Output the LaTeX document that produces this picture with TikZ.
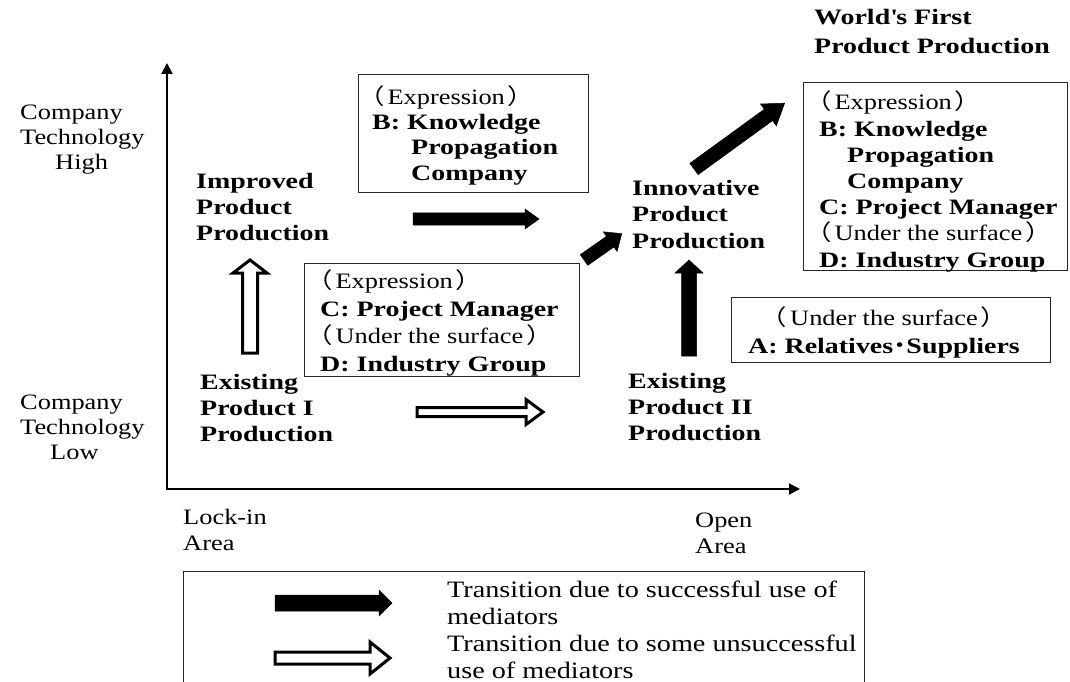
\documentclass[tikz,border=0pt]{standalone}
\usepackage{fontspec}
\setmainfont{Liberation Serif}[FakeStretch=1.2, BoldFeatures={FakeStretch=1.27}]
\newfontfamily\cjk{Noto Sans CJK JP}[FakeStretch=1.2]
\usetikzlibrary{arrows.meta}
\newcommand\lp{{\cjk （}\hspace{3pt}}
\newcommand\rp{\hspace{3pt}{\cjk ）}}
% #1 style, #2 x, #3 y (tail centre), #4 angle, #5 length, #6 shaft half width, #7 head half width, #8 head length
\newcommand\blockarrow[8]{%
  \begin{scope}[shift={(#2,#3)},rotate=#4]
    \filldraw[#1] (0,#6) -- ({#5-#8},#6) -- ({#5-#8},#7) -- (#5,0) -- ({#5-#8},-#7) -- ({#5-#8},-#6) -- (0,-#6) -- cycle;
  \end{scope}}
\tikzset{
  txt/.style={inner sep=0pt, anchor=base west, align=left, font=\fontsize{22}{26}\selectfont},
  btxt/.style={txt, font=\fontsize{22}{26}\selectfont\bfseries},
  box/.style={draw=black!85, line width=1.3pt, anchor=north west, inner sep=0pt},
  solidarrow/.style={fill=black, draw=black, line width=0.5pt, line join=miter},
  hollowarrow/.style={fill=white, draw=black, line width=3pt, line join=miter},
  axis/.style={line width=2pt, line join=miter, {Triangle[length=11pt,width=11pt]}-{Triangle[length=11pt,width=11pt]}}
}
\begin{document}
\begin{tikzpicture}[x=1pt,y=-1pt]
\useasboundingbox (0,0) rectangle (1070,682);
\fill[white] (0,0) rectangle (1070,682);

% axes
\coordinate (yt) at (167,63);
\coordinate (O) at (167,489);
\coordinate (xt) at (800,489);
\draw[axis] (yt) -- (O) -- (xt);

% axis labels (anchor = baseline of last line)
\node[txt, font=\fontsize{22}{25}\selectfont] (hi) at (20,169) {Company\\Technology\\\hspace*{35pt}High};
\node[txt, font=\fontsize{22}{25}\selectfont] (lo) at (20,459) {Company\\Technology\\\hspace*{30pt}Low};
\node[txt] (lock) at (183,550) {Lock-in\\Area};
\node[txt] (open) at (695,553) {Open\\Area};

% states
\node[btxt] (imp) at (196,240) {Improved\\Product\\Production};
\node[btxt] (ex1) at (200,441) {Existing\\Product I\\Production};
\node[btxt, font=\fontsize{22}{26.5}\selectfont\bfseries] (inn) at (632,248) {Innovative\\Product\\Production};
\node[btxt] (ex2) at (628,440) {Existing\\Product II\\Production};
\node[btxt, font=\fontsize{22}{29}\selectfont\bfseries] (wf) at (814,54) {World\textquotesingle s First\\Product Production};

% boxes
\node[box, minimum width=230pt, minimum height=118pt] (boxB) at (358,74) {};
\node[box, minimum width=275pt, minimum height=113pt] (boxCD) at (304,263) {};
\node[box, minimum width=264pt, minimum height=188pt] (boxR) at (803,82) {};
\node[box, minimum width=319pt, minimum height=65pt] (boxA) at (731,297) {};
\node[box, minimum width=681pt, minimum height=125pt] (legend) at (183,571) {};

\node[txt, font=\fontsize{22}{25.3}\selectfont] (tB) at (372,180)
  {\hspace*{-14pt}\lp Expression\rp\\\textbf{B: Knowledge}\\\hspace*{39pt}\textbf{Propagation}\\\hspace*{39pt}\textbf{Company}};
\node[txt, font=\fontsize{22}{27.5}\selectfont] (tCD) at (320,371)
  {\hspace*{-14pt}\lp Expression\rp\\\textbf{C: Project Manager}\\\hspace*{-14pt}\lp Under the surface\rp\\\textbf{D: Industry Group}};
\node[txt, font=\fontsize{22}{26.2}\selectfont] (tR) at (819,267)
  {\hspace*{-14pt}\lp Expression\rp\\\textbf{B: Knowledge}\\\hspace*{28pt}\textbf{Propagation}\\\hspace*{28pt}\textbf{Company}\\\textbf{C: Project Manager}\\\hspace*{-14pt}\lp Under the surface\rp\\\textbf{D: Industry Group}};
\node[txt, anchor=base, align=center, font=\fontsize{22}{28}\selectfont] (tA) at (884,353)
  {\lp Under the surface\rp\\\textbf{A: Relatives{\cjk ･}Suppliers}};

% legend text
\node[txt, font=\fontsize{23.5}{27}\selectfont] (tL) at (447,678)
  {Transition due to successful use of\\mediators\\Transition due to some unsuccessful\\use of mediators};

% block arrows
\blockarrow{hollowarrow}{250}{353}{90}{93}{7.5}{17}{13}
\blockarrow{hollowarrow}{417}{412}{0}{126}{4.5}{12.5}{17}
\blockarrow{solidarrow}{413}{219}{0}{126}{6.2}{10}{14}
\blockarrow{solidarrow}{584}{260}{35}{46}{6.5}{12}{14}
\blockarrow{solidarrow}{694}{169}{36}{112}{7}{13.5}{20}
\blockarrow{solidarrow}{689}{356}{90}{96}{7.5}{14}{13}
\blockarrow{solidarrow}{275}{603}{0}{117}{8}{13}{13}
\blockarrow{hollowarrow}{275}{658}{0}{115}{6}{16}{20}
\end{tikzpicture}
\end{document}
